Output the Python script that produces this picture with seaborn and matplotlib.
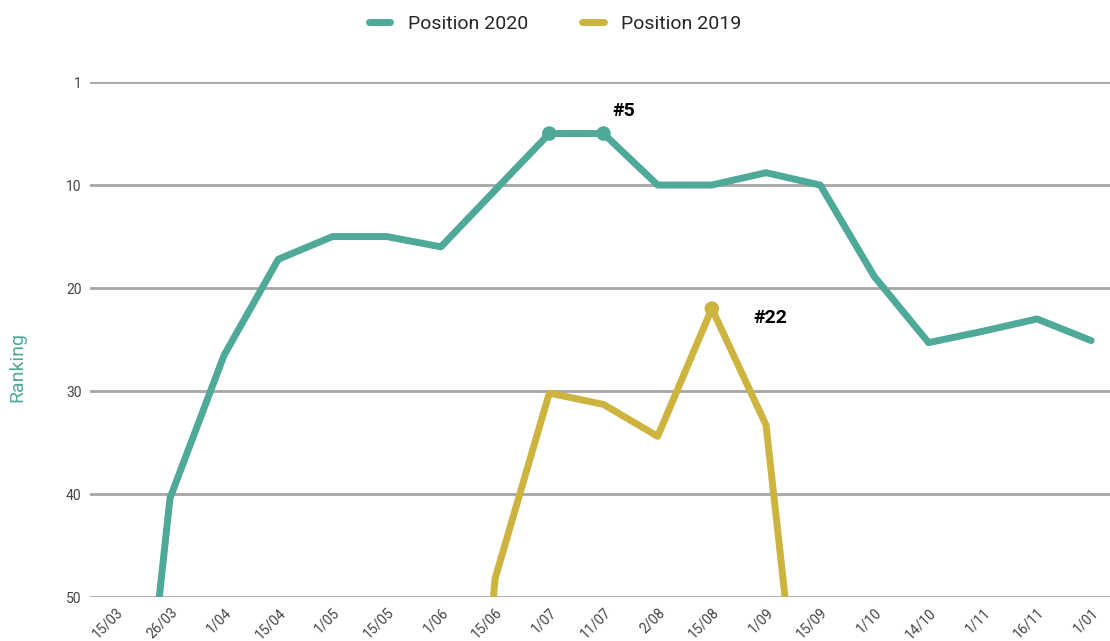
import pandas as pd
import numpy as np
import matplotlib
matplotlib.use('Agg')
import matplotlib.pyplot as plt
import matplotlib.transforms as mtransforms
from matplotlib.lines import Line2D
import seaborn as sns

# Dates shown on the x axis
dates = ['15/03', '26/03', '1/04', '15/04', '1/05', '15/05', '1/06', '15/06', '1/07',
         '11/07', '2/08', '15/08', '1/09', '15/09', '1/10', '14/10', '1/11', '16/11', '1/01']

# Ranking positions (values beyond 50 fall off the chart)
pos_2020 = [89, 40.4, 26.5, 17.2, 15, 15, 16, 10.5, 5, 5, 10, 10, 8.8, 10, 18.9, 25.3, 24.2, 23, 25.1]
pos_2019 = [np.nan, np.nan, np.nan, np.nan, np.nan, np.nan, 105, 48.2, 30.2, 31.3, 34.4, 22, 33.3, 81,
            np.nan, np.nan, np.nan, np.nan, np.nan]

y_ticks = [0, 10, 20, 30, 40, 50]
y_tick_labels = ['1', '10', '20', '30', '40', '50']

green = '#4fa999'
gold = '#cdb43f'

df = pd.DataFrame({'x': list(range(len(dates))) * 2,
                   'rank': pos_2020 + pos_2019,
                   'series': ['Position 2020'] * len(dates) + ['Position 2019'] * len(dates)})

sns.set_style('white')
plt.rcParams['font.family'] = ['Roboto', 'DejaVu Sans']

fig = plt.figure(figsize=(11.1, 6.41), dpi=100)
ax = fig.add_axes([0.0811, 0.0686, 0.919, 0.8034])

sns.lineplot(data=df, x='x', y='rank', hue='series', palette=[green, gold],
             linewidth=5, sort=False, ax=ax, legend=False)

# Highlight the peak positions
peaks = pd.DataFrame({'x': [8, 9, 11], 'rank': [5, 5, 22], 'series': ['2020', '2020', '2019']})
sns.scatterplot(data=peaks, x='x', y='rank', hue='series', palette=[green, gold],
                s=110, edgecolor='none', ax=ax, legend=False, zorder=5)
ax.text(9.38, 2.8, '#5', fontsize=14, fontweight='bold', ha='center', va='center', color='black')
ax.text(12.07, 22.9, '#22', fontsize=14, fontweight='bold', ha='center', va='center', color='black')

ax.set_xlim(-0.476, 18.35)
ax.set_ylim(50, 0)
ax.set_yticks(y_ticks)
ax.set_yticklabels(y_tick_labels)
ax.set_xticks(range(len(dates)))
ax.set_xticklabels(dates, rotation=45, ha='right', rotation_mode='anchor')
shift = mtransforms.ScaledTranslation(9 / 100, 0, fig.dpi_scale_trans)
for lab in ax.get_xticklabels():
    lab.set_transform(lab.get_transform() + shift)
ax.tick_params(axis='x', labelsize=10, labelcolor='#444444', length=0, pad=6)
ax.tick_params(axis='y', labelsize=10, labelcolor='#444444', length=0, pad=6)
ax.yaxis.grid(True, color='#a6a6a6', linewidth=2)
ax.xaxis.grid(False)
for s in ax.spines.values():
    s.set_visible(False)
ax.set_xlabel('')
ax.set_ylabel('Ranking', color=green, fontsize=14)
ax.yaxis.set_label_coords(-0.062, 0.447)

handles = [Line2D([0], [0], color=green, lw=5), Line2D([0], [0], color=gold, lw=5)]
fig.legend(handles, ['Position 2020', 'Position 2019'], loc='center', bbox_to_anchor=(0.5, 0.963),
           ncol=2, frameon=False, fontsize=14, handlelength=1.1, columnspacing=2.8, handletextpad=0.9)

fig.savefig('out.png', dpi=100)
